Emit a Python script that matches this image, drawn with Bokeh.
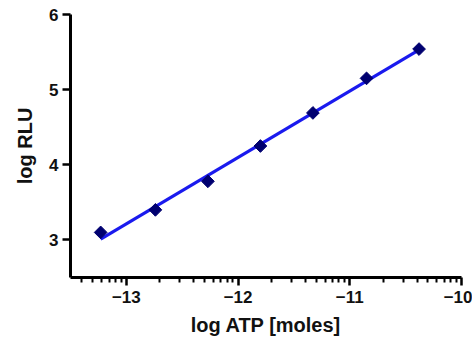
import numpy as np
from bokeh.plotting import figure
from bokeh.models import FixedTicker, Range1d
from bokeh.embed import file_html
from bokeh.resources import INLINE

# data
log_atp = [-13.23, -12.74, -12.27, -11.80, -11.33, -10.85, -10.38]
log_rlu = [3.10, 3.40, 3.78, 4.25, 4.69, 5.15, 5.54]

x_major = [-13, -12, -11, -10]
y_major = [3, 4, 5, 6]

# linear fit
slope, intercept = np.polyfit(log_atp, log_rlu, 1)
fit_x = [min(log_atp), max(log_atp)]
fit_y = [slope * v + intercept for v in fit_x]

# log-style minor ticks
minor = []
for d in range(-14, -10):
    for k in range(2, 10):
        t = d + np.log10(k)
        if -13.5 <= t < -10:
            minor.append(float(t))

p = figure(width=472, height=341, output_backend="svg", toolbar_location=None,
           x_range=Range1d(-13.5, -10), y_range=Range1d(2.5, 6),
           min_border_left=70, min_border_right=11,
           min_border_top=14, min_border_bottom=64)
p.outline_line_color = None
p.grid.visible = False
p.background_fill_color = "white"
p.border_fill_color = "white"

p.line(fit_x, fit_y, line_color="#1a1aee", line_width=3.2)
p.scatter(log_atp, log_rlu, marker="square", angle=np.pi / 4, size=9,
          fill_color="#000070", line_color="#000070", line_width=1)

font = "Liberation Sans"
p.xaxis.ticker = FixedTicker(ticks=x_major, minor_ticks=minor)
p.yaxis.ticker = FixedTicker(ticks=y_major)
for ax in (p.xaxis, p.yaxis):
    ax.axis_line_width = 3
    ax.axis_line_color = "black"
    ax.major_tick_line_width = 2.5
    ax.major_tick_line_color = "black"
    ax.minor_tick_line_width = 2
    ax.minor_tick_line_color = "black"
    ax.major_tick_in = 0
    ax.major_tick_out = 8
    ax.minor_tick_in = 0
    ax.minor_tick_out = 5
    ax.major_label_text_font = font
    ax.major_label_text_font_style = "bold"
    ax.major_label_text_font_size = "17px"
    ax.major_label_text_color = "#111111"
    ax.axis_label_text_font = font
    ax.axis_label_text_font_style = "bold"
    ax.axis_label_text_font_size = "20px"
    ax.axis_label_text_color = "#111111"
p.yaxis.minor_tick_out = 0
p.xaxis.major_label_standoff = 5
p.yaxis.major_label_standoff = 4
p.xaxis.axis_label = "log ATP [moles]"
p.yaxis.axis_label = "log RLU"
p.xaxis.axis_label_standoff = 8
p.yaxis.axis_label_standoff = 10

open("out.html", "w").write(file_html(p, INLINE))
